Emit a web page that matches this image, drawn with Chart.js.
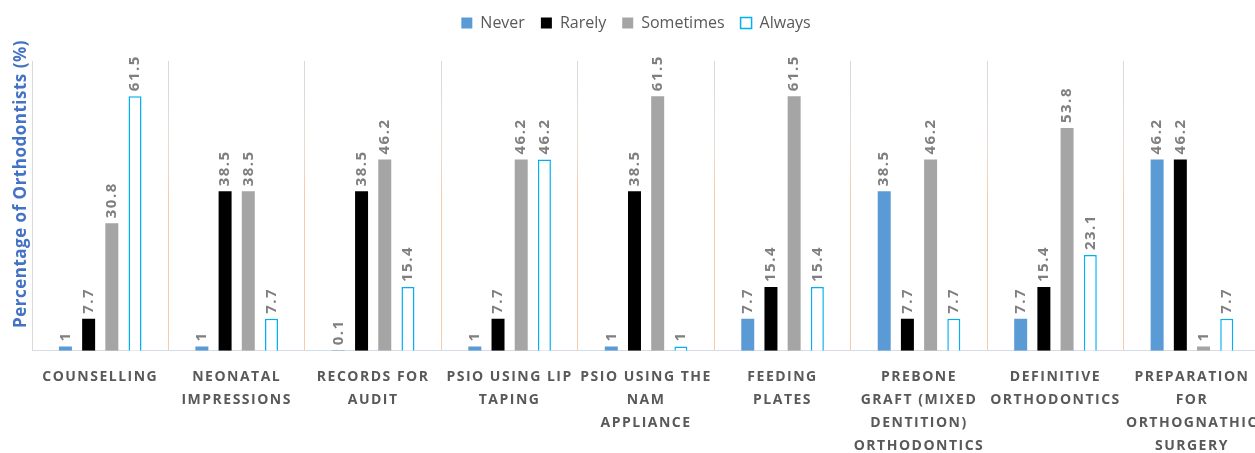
<!DOCTYPE html>
<html>
<head>
<meta charset="utf-8">
<script src="https://cdn.jsdelivr.net/npm/chart.js@4.4.1/dist/chart.umd.min.js"></script>
<style>
  html, body { margin: 0; padding: 0; background: #fff; overflow: hidden; }
  #wrap { position: relative; width: 1264px; height: 453px; }
</style>
</head>
<body>
<div id="wrap"><canvas id="grafico"></canvas></div>
<script>
// categorias do eixo x (quebradas em linhas como no original)
const categorias = [
  ["COUNSELLING"],
  ["NEONATAL", "IMPRESSIONS"],
  ["RECORDS FOR", "AUDIT"],
  ["PSIO USING LIP", "TAPING"],
  ["PSIO USING THE", "NAM", "APPLIANCE"],
  ["FEEDING", "PLATES"],
  ["PREBONE", "GRAFT (MIXED", "DENTITION)", "ORTHODONTICS"],
  ["DEFINITIVE", "ORTHODONTICS"],
  ["PREPARATION", "FOR", "ORTHOGNATHIC", "SURGERY"]
];

const never = [1, 1, 0.1, 1, 1, 7.7, 38.5, 7.7, 46.2];
const rarely = [7.7, 38.5, 38.5, 7.7, 38.5, 15.4, 7.7, 15.4, 46.2];
const sometimes = [30.8, 38.5, 46.2, 46.2, 61.5, 61.5, 46.2, 53.8, 1];
const always = [61.5, 7.7, 15.4, 46.2, 1, 15.4, 7.7, 23.1, 7.7];

const tituloY = "Percentage of Orthodontists (%)";

// escreve os valores girados em cima das barras
const rotulosBarras = {
  id: "rotulosBarras",
  afterDatasetsDraw(chart) {
    const ctx = chart.ctx;
    ctx.save();
    ctx.font = "bold 15px 'Open Sans'";
    ctx.letterSpacing = "1.5px";
    ctx.fillStyle = "#7F7F7F";
    ctx.textAlign = "left";
    ctx.textBaseline = "middle";
    chart.data.datasets.forEach((ds, i) => {
      chart.getDatasetMeta(i).data.forEach((barra, j) => {
        ctx.save();
        ctx.translate(barra.x, barra.y - 5);
        ctx.rotate(-Math.PI / 2);
        ctx.fillText(String(ds.data[j]), 0, 0);
        ctx.restore();
      });
    });
    ctx.restore();
  }
};

// titulo do eixo y desenhado a mao (fica um pouco acima do centro no original)
const tituloEixoY = {
  id: "tituloEixoY",
  afterDraw(chart) {
    const ctx = chart.ctx;
    ctx.save();
    ctx.font = "bold 17px 'Open Sans'";
    ctx.letterSpacing = "0.5px";
    ctx.fillStyle = "#4472C4";
    ctx.textAlign = "center";
    ctx.textBaseline = "middle";
    ctx.translate(21, 184);
    ctx.rotate(-Math.PI / 2);
    ctx.fillText(tituloY, 0, 0);
    ctx.restore();
  }
};

// espaco extra entre legenda e grafico + espacamento de letras no eixo x
const ajustes = {
  id: "ajustes",
  beforeInit(chart) {
    const fit = chart.legend.fit;
    chart.legend.fit = function () {
      fit.call(this);
      this.height += 20;
    };
  },
  afterLayout(chart) {
    const s = chart.scales.x;
    if (s._espacado) return;
    const desenha = s.drawLabels;
    s.drawLabels = function (area) {
      const c = this.ctx;
      const antes = c.letterSpacing;
      c.letterSpacing = "1.5px";
      desenha.call(this, area);
      c.letterSpacing = antes;
    };
    s._espacado = true;
  }
};

function corGrade(c) {
  if (c.index === 0) return "#D9D9D9";
  const area = c.chart.chartArea;
  if (!area) return "#F8CBAD";
  const g = c.chart.ctx.createLinearGradient(0, area.top, 0, area.bottom);
  g.addColorStop(0, "#D9D9D9");
  g.addColorStop(0.3, "#E6DCD2");
  g.addColorStop(0.45, "#F8CBAD");
  g.addColorStop(1, "#F8CBAD");
  return g;
}

new Chart(document.getElementById("grafico"), {
  type: "bar",
  data: {
    labels: categorias,
    datasets: [
      { label: "Never", data: never, backgroundColor: "#5B9BD5", borderWidth: 0 },
      { label: "Rarely", data: rarely, backgroundColor: "#000000", borderWidth: 0 },
      { label: "Sometimes", data: sometimes, backgroundColor: "#A5A5A5", borderWidth: 0 },
      { label: "Always", data: always, backgroundColor: "#FFFFFF", borderColor: "#00B0F0", borderWidth: 1.5 }
    ]
  },
  options: {
    responsive: true,
    maintainAspectRatio: false,
    animation: false,
    categoryPercentage: 0.68,
    barPercentage: 0.56,
    layout: { padding: { top: -1, right: 2, left: 10, bottom: -19 } },
    plugins: {
      legend: {
        position: "top",
        labels: {
          boxWidth: 11,
          boxHeight: 11,
          padding: 16,
          color: "#595959",
          font: { family: "'Open Sans'", size: 16 }
        }
      },
      tooltip: { enabled: false }
    },
    scales: {
      x: {
        grid: {
          offset: true,
          drawTicks: false,
          color: corGrade,
          lineWidth: 1
        },
        border: { display: true, color: "#D6DCE5" },
        ticks: {
          autoSkip: false,
          maxRotation: 0,
          minRotation: 0,
          padding: 15,
          color: "#595959",
          font: { family: "'Open Sans'", size: 14, weight: "bold", lineHeight: 1.63 }
        }
      },
      y: {
        min: 0,
        max: 70,
        afterFit: (s) => { s.width = 22; },
        grid: { display: false, drawTicks: false, tickLength: 0 },
        border: { display: true, color: "#D9D9D9" },
        ticks: { display: false }
      }
    }
  },
  plugins: [rotulosBarras, tituloEixoY, ajustes]
});
</script>
</body>
</html>
